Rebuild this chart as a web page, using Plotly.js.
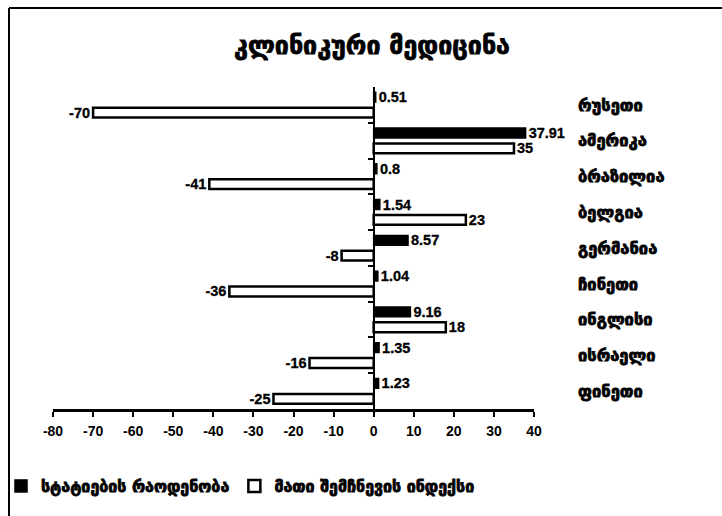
<!DOCTYPE html>
<html>
<head>
<meta charset="utf-8">
<script src="https://cdn.plot.ly/plotly-3.0.1.min.js"></script>
<style>
html,body{margin:0;padding:0;background:#fff;}
#chart{width:722px;height:516px;}
#chart .gtitle, #chart .ytick text, #chart .legendtext{stroke:#000;stroke-width:0.8px;}
#chart .bartext{stroke:#000;stroke-width:0.3px;}
</style>
</head>
<body>
<div id="chart"></div>
<script>
// ---- data ----
var countries = ["რუსეთი","ამერიკა","ბრაზილია","ბელგია","გერმანია","ჩინეთი","ინგლისი","ისრაელი","ფინეთი"];
var articleCounts = [0.51, 37.91, 0.8, 1.54, 8.57, 1.04, 9.16, 1.35, 1.23];
var citationIndex = [-70, 35, -41, 23, -8, -36, 18, -16, -25];
var seriesNames = ["სტატიების რაოდენობა", "მათი შემჩნევის ინდექსი"];
var chartTitle = "კლინიკური მედიცინა";
var xTickVals = [-80,-70,-60,-50,-40,-30,-20,-10,0,10,20,30,40];

// ---- layout helpers ----
var W = 722, H = 516;
var M = {l: 53, r: 188, t: 87, b: 107, autoexpand: false};
var pw = W - M.l - M.r, ph = H - M.t - M.b;
function px(xp){ return (xp - M.l) / pw; }
function py(yp){ return (H - M.b - yp) / ph; }
var xmin = -80, xmax = 40;

var geo = '"DejaVu Sans", sans-serif';
var num = '"Liberation Sans", Arial, sans-serif';

var traces = [
  {
    type: 'bar', orientation: 'h', name: seriesNames[0],
    x: articleCounts, y: countries,
    marker: {color: '#000', line: {color: '#000', width: 1.5}},
    text: articleCounts.map(String), textposition: 'outside', constraintext: 'none', cliponaxis: false,
    textfont: {family: num, size: 14.5, color: '#000', weight: 'bold'},
    hoverinfo: 'skip'
  },
  {
    type: 'bar', orientation: 'h', name: seriesNames[1],
    x: citationIndex, y: countries,
    marker: {color: '#fff', line: {color: '#000', width: 2.5}},
    text: citationIndex.map(String), textposition: 'outside', constraintext: 'none', cliponaxis: false,
    textfont: {family: num, size: 14.5, color: '#000', weight: 'bold'},
    hoverinfo: 'skip'
  }
];

var layout = {
  width: W, height: H,
  margin: M,
  paper_bgcolor: '#fff', plot_bgcolor: 'rgba(0,0,0,0)',
  barmode: 'group', bargap: 0.14, bargroupgap: 0.36,
  title: {
    text: chartTitle, xref: 'paper', x: px(372), xanchor: 'center',
    yref: 'container', y: 1 - 45/H, yanchor: 'middle',
    font: {family: geo, size: 25, color: '#000', weight: 'bold'}
  },
  xaxis: {
    range: [xmin, xmax], tickvals: xTickVals, ticktext: xTickVals.map(String),
    showgrid: false, zeroline: false, showline: true, linecolor: '#000', linewidth: 2.5,
    ticks: 'outside', ticklen: 5, tickwidth: 2, tickcolor: '#000',
    tickfont: {family: num, size: 14, color: '#000', weight: 'bold'},
    ticklabelstandoff: 3
  },
  yaxis: {
    type: 'category', categoryarray: countries, categoryorder: 'array', autorange: 'reversed',
    anchor: 'free', position: (0 - xmin) / (xmax - xmin), side: 'right',
    showgrid: false, zeroline: false, showline: true, linecolor: '#000', linewidth: 2,
    ticks: 'inside', tickson: 'boundaries', ticklen: 5, tickwidth: 2, tickcolor: '#000',
    tickfont: {family: geo, size: 16.5, color: '#000', weight: 'bold'},
    ticklabelstandoff: 200
  },
  showlegend: true,
  legend: {
    orientation: 'h', x: px(1), xanchor: 'left', y: py(486), yanchor: 'middle',
    font: {family: geo, size: 16, color: '#000', weight: 'bold'},
    bgcolor: 'rgba(0,0,0,0)', itemwidth: 30, traceorder: 'normal'
  },
  shapes: [
    {type: 'line', xref: 'paper', yref: 'paper', x0: px(9), x1: px(722), y0: py(8), y1: py(8), line: {color: '#000', width: 2}},
    {type: 'line', xref: 'paper', yref: 'paper', x0: px(9), x1: px(9), y0: py(8), y1: py(516), line: {color: '#000', width: 2}}
  ]
};

Plotly.newPlot('chart', traces, layout, {staticPlot: true, displayModeBar: false});
</script>
</body>
</html>
